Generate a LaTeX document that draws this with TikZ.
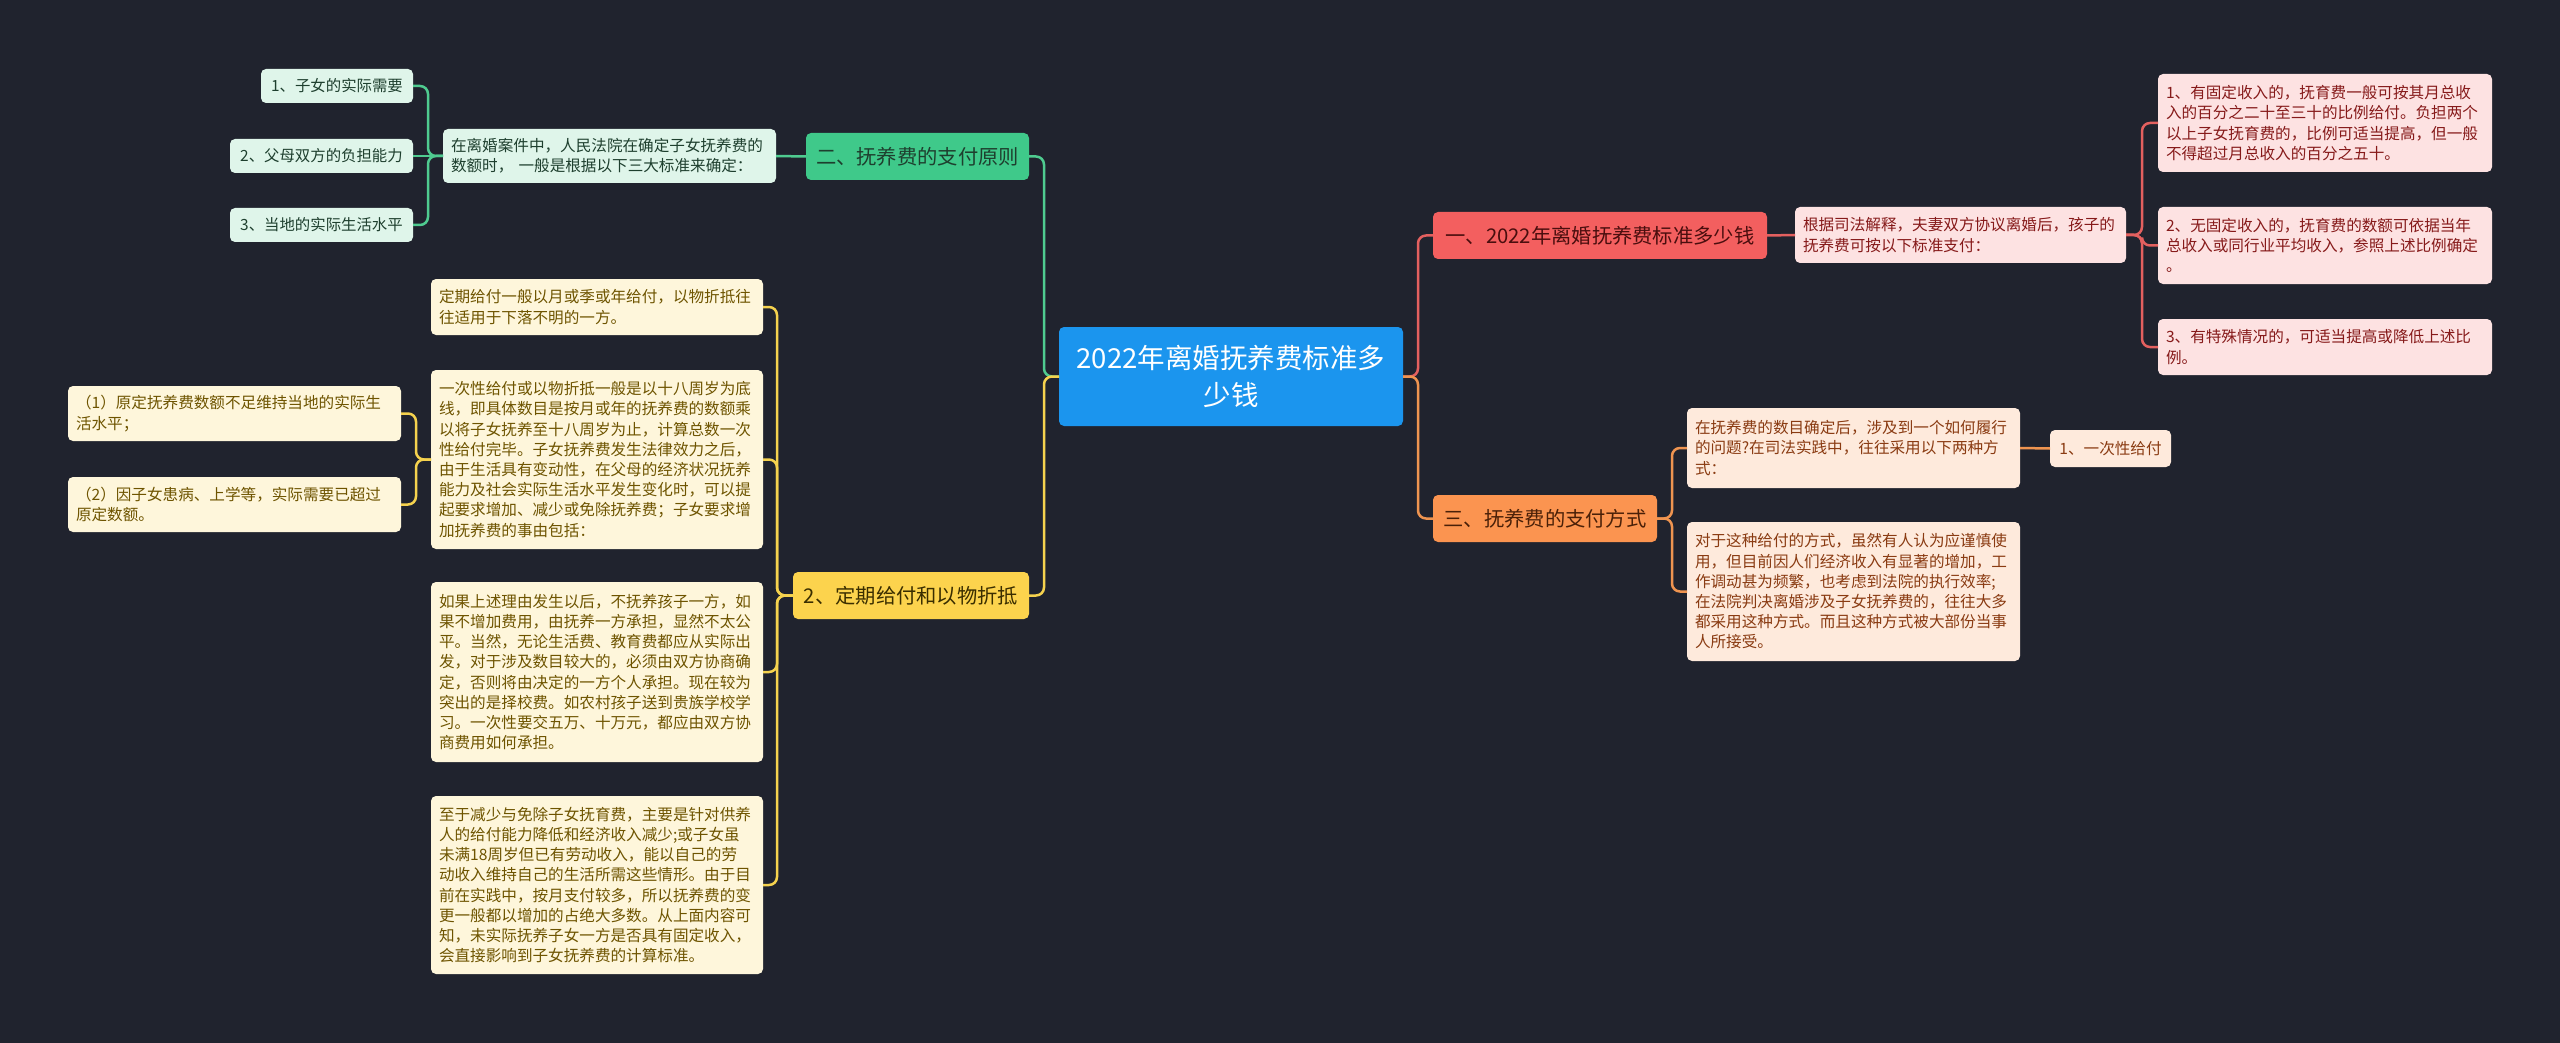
\documentclass[tikz,border=0pt]{standalone}
\usepackage{fontspec}
\setmainfont{Noto Sans CJK SC}
\usetikzlibrary{positioning}
\definecolor{bgc}{HTML}{20232E}
\definecolor{cblue}{HTML}{1B95EE}
\definecolor{gMain}{HTML}{3FC98A}
\definecolor{gLine}{HTML}{4FCB90}
\definecolor{gFill}{HTML}{DFF5EA}
\definecolor{gText}{HTML}{1E3F2E}
\definecolor{rMain}{HTML}{F35F5F}
\definecolor{rLine}{HTML}{E3605F}
\definecolor{rFill}{HTML}{FDE2E2}
\definecolor{rText}{HTML}{861A1A}
\definecolor{rMainText}{HTML}{4A0E0E}
\definecolor{yMain}{HTML}{FCD34D}
\definecolor{yLine}{HTML}{F5D24E}
\definecolor{yFill}{HTML}{FEF6DB}
\definecolor{yText}{HTML}{6E5400}
\definecolor{yMainText}{HTML}{3A2E00}
\definecolor{oMain}{HTML}{FB9450}
\definecolor{oLine}{HTML}{EF9450}
\definecolor{oFill}{HTML}{FEEADC}
\definecolor{oText}{HTML}{8A3B12}
\definecolor{oMainText}{HTML}{4A2008}
\tikzset{
  every node/.style={inner sep=0pt, outer sep=0pt},
  boxbase/.style={rounded corners=5pt, anchor=north west},
  txtbox/.style={boxbase, inner xsep=8pt, align=left, font=\fontsize{15.6}{20.2}\selectfont},
  mainbox/.style={boxbase, align=center, minimum height=47pt, font=\fontsize{20.3}{24}\selectfont},
  gbox/.style={txtbox, fill=gFill, text=gText},
  ybox/.style={txtbox, fill=yFill, text=yText},
  rbox/.style={txtbox, fill=rFill, text=rText},
  obox/.style={txtbox, fill=oFill, text=oText},
  lnk/.style={line width=2.5pt, rounded corners=8pt},
  gln/.style={lnk, draw=gLine},
  yln/.style={lnk, draw=yLine},
  rln/.style={lnk, draw=rLine},
  oln/.style={lnk, draw=oLine},
}
\begin{document}
\begin{tikzpicture}[x=1pt, y=-1pt]
\useasboundingbox (0,0) rectangle (2560,1043);
\fill[bgc] (0,0) rectangle (2560,1043);

% central
\node[boxbase, fill=cblue, text=white, minimum width=344pt, minimum height=99pt, align=center,
  font=\fontsize{27.5}{37}\selectfont] (c) at (1059,327) {2022年离婚抚养费标准多\\少钱};

% main branches
\node[mainbox, fill=gMain, text=gText, minimum width=223pt] (g1) at (806,133) {二、抚养费的支付原则};
\node[mainbox, fill=yMain, text=yMainText, minimum width=236pt] (y1) at (793,572) {2、定期给付和以物折抵};
\node[mainbox, fill=rMain, text=rMainText, minimum width=334pt] (r1) at (1433,212) {一、2022年离婚抚养费标准多少钱};
\node[mainbox, fill=oMain, text=oMainText, minimum width=224pt] (o1) at (1433,495) {三、抚养费的支付方式};

% green
\node[gbox, text width=317pt, minimum height=54pt] (gt) at (443,129) {在离婚案件中，人民法院在确定子女抚养费的\\数额时， 一般是根据以下三大标准来确定：};
\node[gbox, align=center, minimum width=152pt, minimum height=34pt, font=\fontsize{15.4}{19}\selectfont] (gl1) at (261,69) {1、子女的实际需要};
\node[gbox, align=center, minimum width=183pt, minimum height=34pt, font=\fontsize{15.4}{19}\selectfont] (gl2) at (230,139) {2、父母双方的负担能力};
\node[gbox, align=center, minimum width=183pt, minimum height=34pt, font=\fontsize{15.4}{19}\selectfont] (gl3) at (230,208) {3、当地的实际生活水平};

% yellow
\node[ybox, text width=316pt, minimum height=56pt] (yt1) at (431,279) {定期给付一般以月或季或年给付，以物折抵往\\往适用于下落不明的一方。};
\node[ybox, text width=316pt, minimum height=179pt] (yt2) at (431,370) {一次性给付或以物折抵一般是以十八周岁为底\\线，即具体数目是按月或年的抚养费的数额乘\\以将子女抚养至十八周岁为止，计算总数一次\\性给付完毕。子女抚养费发生法律效力之后，\\由于生活具有变动性，在父母的经济状况抚养\\能力及社会实际生活水平发生变化时，可以提\\起要求增加、减少或免除抚养费；子女要求增\\加抚养费的事由包括：};
\node[ybox, text width=316pt, minimum height=180pt] (yt3) at (431,582) {如果上述理由发生以后，不抚养孩子一方，如\\果不增加费用，由抚养一方承担，显然不太公\\平。当然，无论生活费、教育费都应从实际出\\发，对于涉及数目较大的，必须由双方协商确\\定，否则将由决定的一方个人承担。现在较为\\突出的是择校费。如农村孩子送到贵族学校学\\习。一次性要交五万、十万元，都应由双方协\\商费用如何承担。};
\node[ybox, text width=316pt, minimum height=178pt] (yt4) at (431,796) {至于减少与免除子女抚育费，主要是针对供养\\人的给付能力降低和经济收入减少;或子女虽\\未满18周岁但已有劳动收入，能以自己的劳\\动收入维持自己的生活所需这些情形。由于目\\前在实践中，按月支付较多，所以抚养费的变\\更一般都以增加的占绝大多数。从上面内容可\\知，未实际抚养子女一方是否具有固定收入，\\会直接影响到子女抚养费的计算标准。};
\node[ybox, text width=317pt, minimum height=55pt] (yl1) at (68,386) {（1）原定抚养费数额不足维持当地的实际生\\活水平；};
\node[ybox, text width=317pt, minimum height=55pt] (yl2) at (68,477) {（2）因子女患病、上学等，实际需要已超过\\原定数额。};

% red
\node[rbox, text width=315pt, minimum height=56pt] (rt) at (1795,207) {根据司法解释，夫妻双方协议离婚后，孩子的\\抚养费可按以下标准支付：};
\node[rbox, text width=318pt, minimum height=98pt] (rl1) at (2158,74) {1、有固定收入的，抚育费一般可按其月总收\\入的百分之二十至三十的比例给付。负担两个\\以上子女抚育费的，比例可适当提高，但一般\\不得超过月总收入的百分之五十。};
\node[rbox, text width=318pt, minimum height=77pt] (rl2) at (2158,207) {2、无固定收入的，抚育费的数额可依据当年\\总收入或同行业平均收入，参照上述比例确定\\。};
\node[rbox, text width=318pt, minimum height=56pt] (rl3) at (2158,319) {3、有特殊情况的，可适当提高或降低上述比\\例。};

% orange
\node[obox, text width=317pt, minimum height=80pt] (ot1) at (1687,408) {在抚养费的数目确定后，涉及到一个如何履行\\的问题?在司法实践中，往往采用以下两种方\\式：};
\node[obox, text width=317pt, minimum height=139pt] (ot2) at (1687,522) {对于这种给付的方式，虽然有人认为应谨慎使\\用，但目前因人们经济收入有显著的增加，工\\作调动甚为频繁，也考虑到法院的执行效率;\\在法院判决离婚涉及子女抚养费的，往往大多\\都采用这种方式。而且这种方式被大部份当事\\人所接受。};
\node[obox, align=center, minimum width=121pt, minimum height=37pt] (ol1) at (2050,430) {1、一次性给付};

% connectors from centre
\draw[gln] (c.west) -- ++(-15,0) |- (g1.east);
\draw[yln] (c.west) -- ++(-15,0) |- (y1.east);
\draw[rln] (c.east) -- ++(15,0) |- (r1.west);
\draw[oln] (c.east) -- ++(15,0) |- (o1.west);

% green
\draw[gln] (g1.west) -- (gt.east);
\draw[gln] (gt.west) -- ++(-15,0) |- (gl1.east);
\draw[gln] (gt.west) -- (gl2.east);
\draw[gln] (gt.west) -- ++(-15,0) |- (gl3.east);

% yellow
\draw[yln] (y1.west) -- ++(-16,0) |- (yt1.east);
\draw[yln] (y1.west) -- ++(-16,0) |- (yt2.east);
\draw[yln] (y1.west) -- ++(-16,0) |- (yt3.east);
\draw[yln] (y1.west) -- ++(-16,0) |- (yt4.east);
\draw[yln] (yt2.west) -- ++(-15,0) |- (yl1.east);
\draw[yln] (yt2.west) -- ++(-15,0) |- (yl2.east);

% red
\draw[rln] (r1.east) -- (rt.west);
\draw[rln] (rt.east) -- ++(16,0) |- (rl1.west);
\draw[rln] (rt.east) -- ++(16,0) |- (rl2.west);
\draw[rln] (rt.east) -- ++(16,0) |- (rl3.west);

% orange
\draw[oln] (o1.east) -- ++(15,0) |- (ot1.west);
\draw[oln] (o1.east) -- ++(15,0) |- (ot2.west);
\draw[oln] (ot1.east) -- (ol1.west);
\end{tikzpicture}
\end{document}
